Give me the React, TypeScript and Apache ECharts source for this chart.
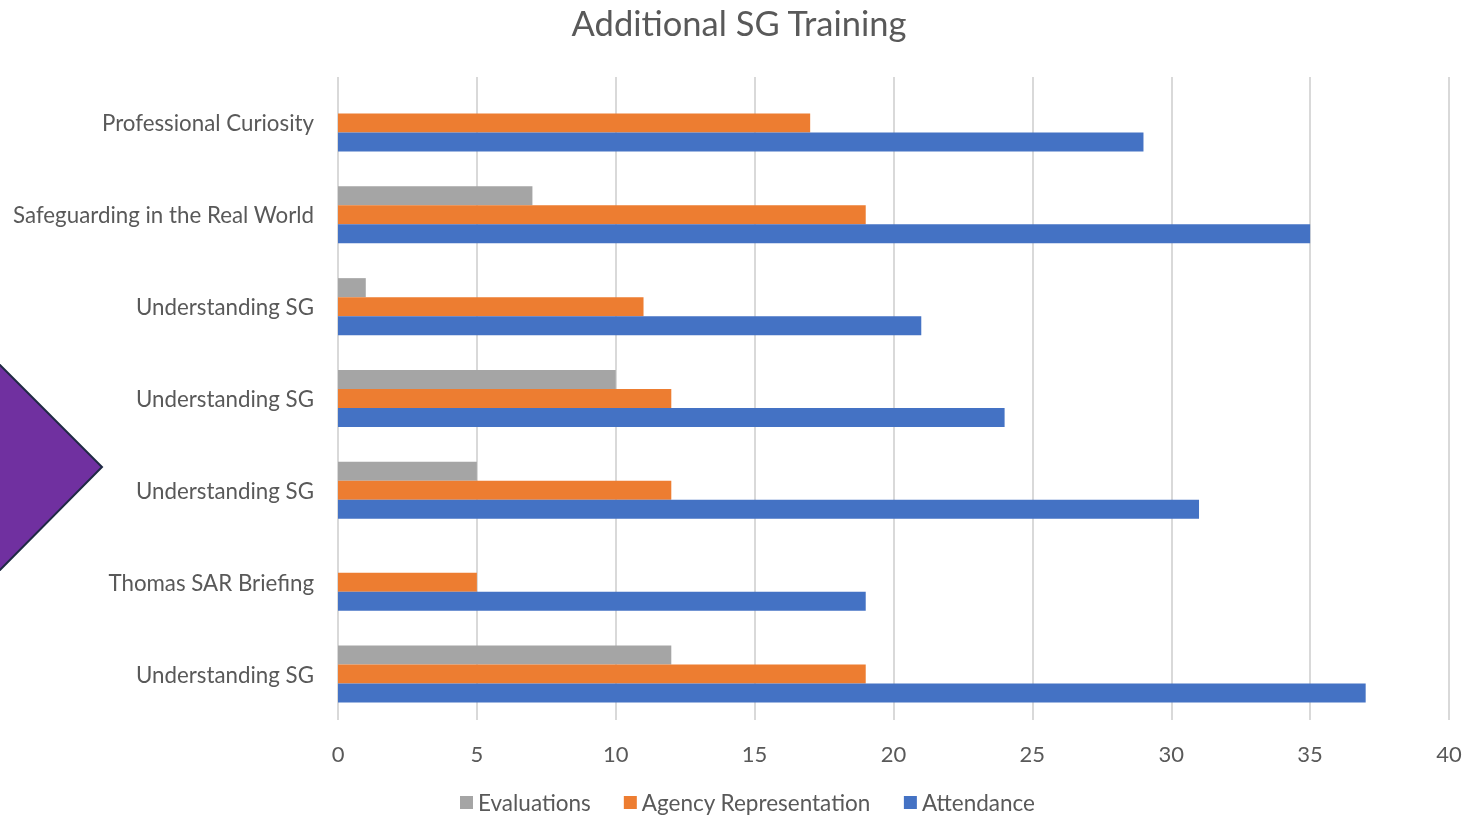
import React, { useEffect, useRef } from "react";
import * as echarts from "echarts";

// Sessions listed bottom-to-top, as the category axis draws them
const sessions = [
  "Understanding SG",
  "Thomas SAR Briefing",
  "Understanding SG",
  "Understanding SG",
  "Understanding SG",
  "Safeguarding in the Real World",
  "Professional Curiosity",
];

const attendance = [37, 19, 31, 24, 21, 35, 29];
const agencyRepresentation = [19, 5, 12, 12, 11, 19, 17];
const evaluations = [12, 0, 5, 10, 1, 7, 0];

const xTicks = { min: 0, max: 40, interval: 5 };

const legendOrder = ["Evaluations", "Agency Representation", "Attendance"];

const FONT = "Lato, 'Open Sans', sans-serif";
const TEXT = "#595959";

export default function App() {
  const ref = useRef<HTMLDivElement>(null);

  useEffect(() => {
    if (!ref.current) return;
    const chart = echarts.init(ref.current, undefined, { renderer: "svg" });

    const barStyle = (name: string, color: string, data: number[]) => ({
      name,
      type: "bar" as const,
      data,
      barWidth: 19,
      barGap: "0%",
      itemStyle: { color },
      emphasis: { disabled: true },
    });

    chart.setOption({
      animation: false,
      textStyle: { fontFamily: FONT },
      title: {
        text: "Additional SG Training",
        left: "center",
        top: 0,
        textStyle: {
          fontFamily: FONT,
          fontSize: 34.5,
          fontWeight: "normal",
          color: TEXT,
        },
      },
      legend: {
        data: legendOrder,
        bottom: -2,
        left: 455,
        itemWidth: 13,
        itemHeight: 13,
        itemGap: 33,
        icon: "rect",
        textStyle: { fontFamily: FONT, fontSize: 22.5, color: TEXT },
      },
      grid: {
        left: 338,
        right: 29,
        top: 77,
        bottom: 97,
        containLabel: false,
      },
      xAxis: {
        type: "value",
        min: xTicks.min,
        max: xTicks.max,
        interval: xTicks.interval,
        axisLine: { show: false },
        axisTick: { show: false },
        axisLabel: {
          fontFamily: FONT,
          fontSize: 22,
          color: TEXT,
          margin: 22,
        },
        splitLine: { show: true, lineStyle: { color: "#d9d9d9", width: 2 } },
      },
      yAxis: {
        type: "category",
        data: sessions,
        axisLine: { show: false },
        axisTick: { show: false },
        splitLine: { show: false },
        axisLabel: {
          fontFamily: FONT,
          fontSize: 22.3,
          color: TEXT,
          margin: 24,
        },
      },
      // first series sits at the top of each group
      series: [
        barStyle("Evaluations", "#A5A5A5", evaluations),
        barStyle("Agency Representation", "#ED7D31", agencyRepresentation),
        barStyle("Attendance", "#4472C4", attendance),
      ],
      graphic: [
        {
          type: "polygon",
          shape: {
            points: [
              [-110, 365],
              [0, 365],
              [102, 467],
              [0, 570],
              [-110, 570],
            ],
          },
          style: { fill: "#7030A0", stroke: "#1F2A44", lineWidth: 2 },
          z: 10,
        },
      ],
    });

    const onResize = () => chart.resize();
    window.addEventListener("resize", onResize);
    return () => {
      window.removeEventListener("resize", onResize);
      chart.dispose();
    };
  }, []);

  return (
    <div
      ref={ref}
      style={{ position: "fixed", left: 0, top: 0, width: 1478, height: 817 }}
    />
  );
}
